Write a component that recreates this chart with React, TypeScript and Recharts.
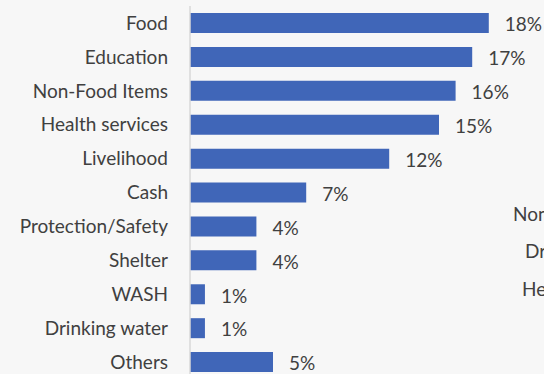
import React from "react";
import { BarChart, Bar, XAxis, YAxis, LabelList, Customized } from "recharts";

const categories = [
  "Food",
  "Education",
  "Non-Food Items",
  "Health services",
  "Livelihood",
  "Cash",
  "Protection/Safety",
  "Shelter",
  "WASH",
  "Drinking water",
  "Others",
];
const values = [18, 17, 16, 15, 12, 7, 4, 4, 0.9, 0.9, 5];
const valueLabels = ["18%", "17%", "16%", "15%", "12%", "7%", "4%", "4%", "1%", "1%", "5%"];
const sideLabels = ["Non-Food Items", "Drinking water", "Health services"];

const data = categories.map((c, i) => ({ name: c, value: values[i], label: valueLabels[i] }));

const FONT = "Lato, 'Open Sans', sans-serif";
const TEXT = "#404040";

const SideText = () => (
  <g>
    <text x={513} y={221} fill={TEXT} fontFamily={FONT} fontSize={19}>{sideLabels[0]}</text>
    <text x={525} y={258} fill={TEXT} fontFamily={FONT} fontSize={19}>{sideLabels[1]}</text>
    <text x={522} y={296} fill={TEXT} fontFamily={FONT} fontSize={19}>{sideLabels[2]}</text>
  </g>
);

export default function App() {
  return (
    <div
      style={{
        position: "absolute",
        left: 0,
        top: 0,
        width: 544,
        height: 374,
        overflow: "hidden",
        background: "#F7F7F7",
      }}
    >
      <BarChart
        width={544}
        height={380}
        data={data}
        layout="vertical"
        margin={{ top: 6, right: 22, bottom: 1, left: 0 }}
        barCategoryGap={14}
      >
        <XAxis type="number" domain={[0, 20]} hide />
        <YAxis
          type="category"
          dataKey="name"
          width={190}
          tickLine={false}
          tickSize={0}
          tickMargin={22}
          axisLine={{ stroke: "#D9D9D9", strokeWidth: 1.5 }}
          tick={{ fill: TEXT, fontFamily: FONT, fontSize: 19 }}
          interval={0}
        />
        <Bar dataKey="value" fill="#4066B8" barSize={20} isAnimationActive={false}>
          <LabelList
            dataKey="label"
            position="right"
            offset={16}
            dy={1.5}
            fill={TEXT}
            fontFamily={FONT}
            fontSize={19}
          />
        </Bar>
        <Customized component={SideText} />
      </BarChart>
    </div>
  );
}
